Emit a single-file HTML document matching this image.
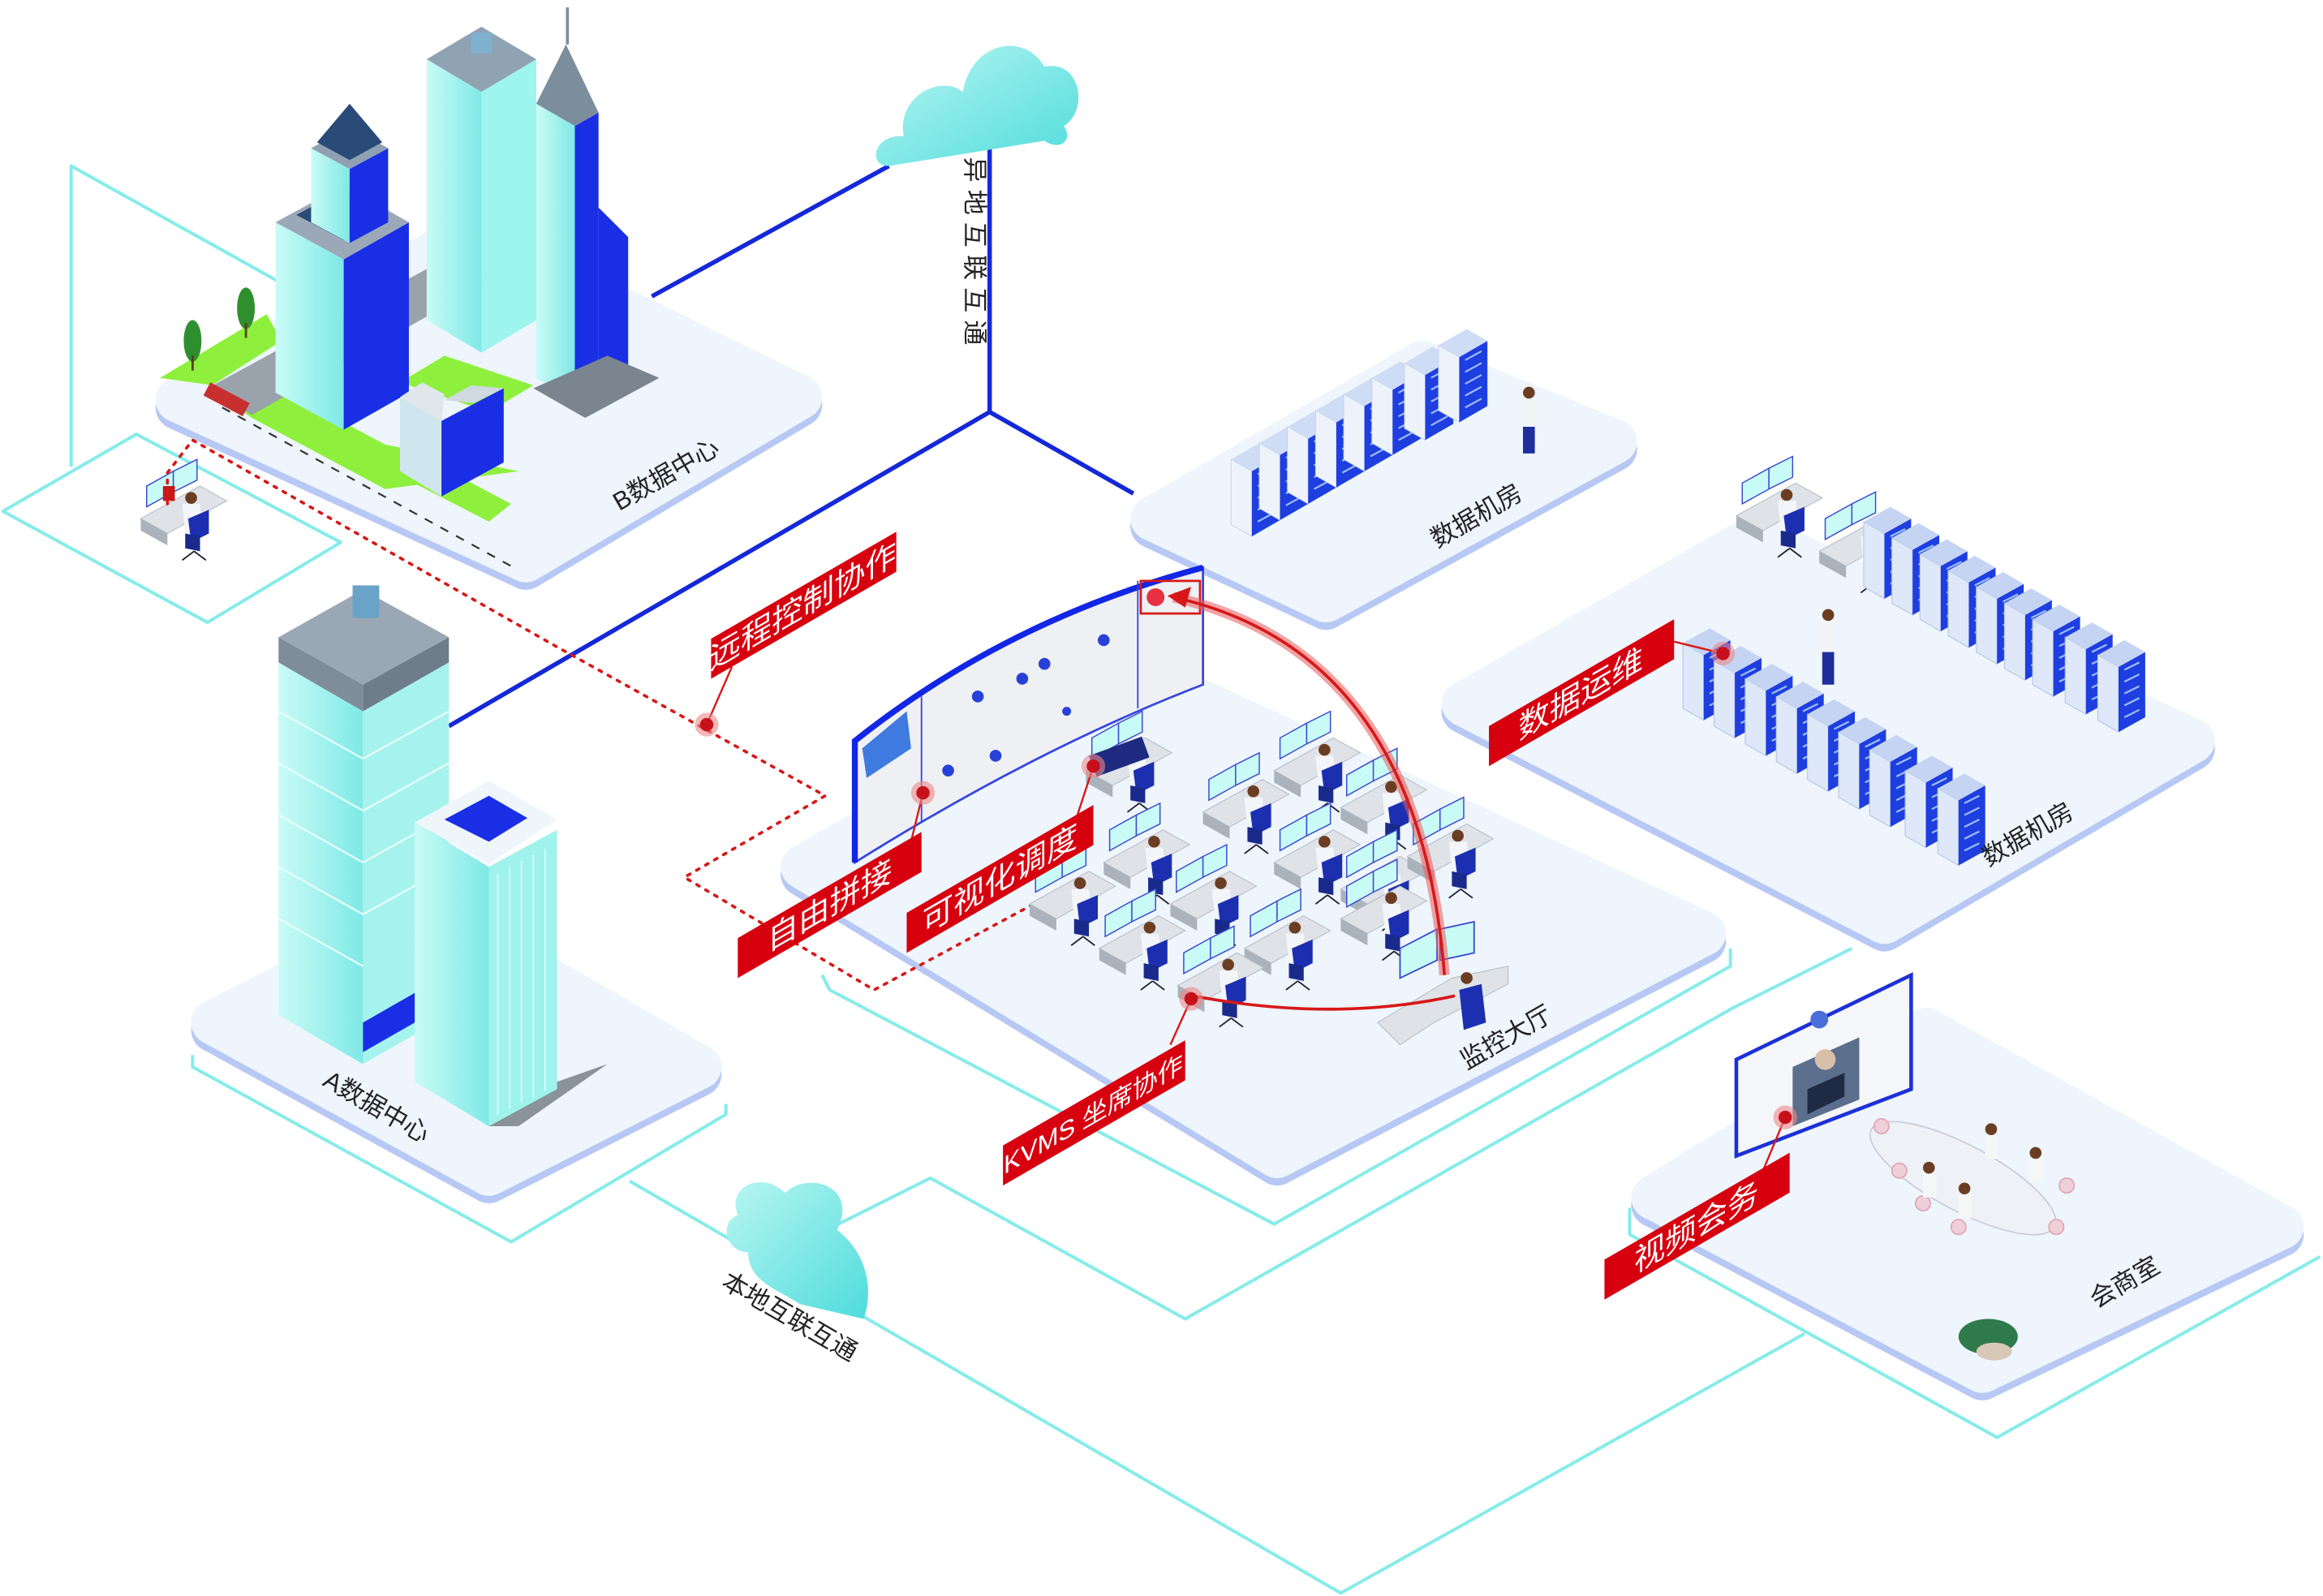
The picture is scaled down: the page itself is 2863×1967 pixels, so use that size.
<!DOCTYPE html>
<html><head><meta charset="utf-8">
<style>
html,body{margin:0;padding:0;background:#fff;}
svg{display:block;}
text{font-family:"Liberation Sans","Noto Sans CJK SC",sans-serif;}
</style></head>
<body>
<svg width="2863" height="1967" viewBox="0 0 1568 1077" preserveAspectRatio="none" xmlns="http://www.w3.org/2000/svg">
<defs>
<linearGradient id="cl" x1="0" y1="0" x2="1" y2="1"><stop offset="0" stop-color="#b9f6f2"/><stop offset="1" stop-color="#4fdcdc"/></linearGradient>
<linearGradient id="gl" x1="0" y1="0" x2="1" y2="0"><stop offset="0" stop-color="#c9fbf6"/><stop offset="1" stop-color="#7fe9e6"/></linearGradient>
<g id="ws">
 <polygon points="0,0 40,-22 58,-12 18,10" fill="#dfe3e8" stroke="#b8bec6" stroke-width="0.6"/>
 <polygon points="0,0 18,10 18,18 0,8" fill="#aab2bb"/>
 <polygon points="4,-8 4,-22 22,-32 22,-18" fill="#c8fbf6" stroke="#3a48d0" stroke-width="0.8"/>
 <polygon points="22,-18 22,-32 38,-40 38,-26" fill="#c8fbf6" stroke="#3a48d0" stroke-width="0.8"/>
 <circle cx="34" cy="-14" r="4" fill="#6b3d22"/>
 <polygon points="28,-10 40,-10 42,8 30,10" fill="#f3f5f8"/>
 <polygon points="32,0 46,-6 46,10 34,16" fill="#1c2fb0"/>
 <polygon points="30,10 40,12 40,22 30,20" fill="#1a2a8c"/>
 <line x1="36" y1="22" x2="28" y2="28" stroke="#223" stroke-width="1"/><line x1="36" y1="22" x2="44" y2="28" stroke="#223" stroke-width="1"/>
</g>
<g id="rackB">
 <polygon points="0,0 -14,-8 -14,-52 0,-44" fill="#eef3fb" stroke="#c6d0e6" stroke-width="0.5"/>
 <polygon points="0,0 19,-11 19,-55 0,-44" fill="#1e3ee0"/>
 <polygon points="0,-44 -14,-52 5,-63 19,-55" fill="#cfdcf5"/>
 <g stroke="#9fc0ff" stroke-width="1.2"><line x1="4" y1="-10" x2="15" y2="-16"/><line x1="4" y1="-18" x2="15" y2="-24"/><line x1="4" y1="-26" x2="15" y2="-32"/><line x1="4" y1="-34" x2="15" y2="-40"/><line x1="4" y1="-42" x2="15" y2="-48"/></g>
</g>
<g id="rackR">
 <polygon points="0,0 -14,-8 -14,-52 0,-44" fill="#dfe8f8" stroke="#b6c4e6" stroke-width="0.6"/>
 <polygon points="0,0 18,-10 18,-54 0,-44" fill="#1e3ee0"/>
 <polygon points="0,-44 -14,-52 4,-62 18,-54" fill="#c4d4f2"/>
 <g stroke="#9fc0ff" stroke-width="1.2"><line x1="4" y1="-10" x2="14" y2="-15"/><line x1="4" y1="-18" x2="14" y2="-23"/><line x1="4" y1="-26" x2="14" y2="-31"/><line x1="4" y1="-34" x2="14" y2="-39"/><line x1="4" y1="-42" x2="14" y2="-47"/></g>
</g>
</defs>

<g fill="none" stroke="#86ecea" stroke-width="2.2" stroke-linejoin="round">
 <polyline points="48,315 48,112 215,205"/>
 <polygon points="2,345 92,293 230,366 140,420"/>
 <polyline points="130,712 130,720 345,838 490,752 490,745"/>
 <polyline points="425,797 905,1075 1218,900"/>
 <polyline points="562,828 628,795 800,890 1170,680 1250,640"/>
 <polyline points="555,658 560,668 860,826 1168,652 1168,640"/>
 <polyline points="1100,815 1100,833 1348,970 1566,848"/>
</g>

<g fill="none" stroke="#1428d8" stroke-width="3">
 <line x1="600" y1="112" x2="440" y2="200"/>
 <line x1="668" y1="88" x2="668" y2="278"/>
 <line x1="668" y1="278" x2="765" y2="333"/>
 <line x1="668" y1="278" x2="303" y2="490"/>
</g>

<g stroke-linejoin="round" stroke-width="30">
 <polygon points="120,270 315,158 540,268 355,378" fill="#b7c8f4" stroke="#b7c8f4" transform="translate(0,5)"/>
 <polygon points="120,270 315,158 540,268 355,378" fill="#eef5fc" stroke="#eef5fc"/>
 <polygon points="778,350 960,245 1090,298 895,405" fill="#b7c8f4" stroke="#b7c8f4" transform="translate(0,5)"/>
 <polygon points="778,350 960,245 1090,298 895,405" fill="#eef5fc" stroke="#eef5fc"/>
 <polygon points="988,475 1185,362 1480,500 1272,622" fill="#b7c8f4" stroke="#b7c8f4" transform="translate(0,5)"/>
 <polygon points="988,475 1185,362 1480,500 1272,622" fill="#eef5fc" stroke="#eef5fc"/>
 <polygon points="542,585 770,455 1150,630 862,780" fill="#b7c8f4" stroke="#b7c8f4" transform="translate(0,5)"/>
 <polygon points="542,585 770,455 1150,630 862,780" fill="#eef5fc" stroke="#eef5fc"/>
 <polygon points="144,690 290,615 472,720 330,792" fill="#b7c8f4" stroke="#b7c8f4" transform="translate(0,5)"/>
 <polygon points="144,690 290,615 472,720 330,792" fill="#eef5fc" stroke="#eef5fc"/>
 <polygon points="1116,808 1300,695 1540,828 1338,925" fill="#b7c8f4" stroke="#b7c8f4" transform="translate(0,5)"/>
 <polygon points="1116,808 1300,695 1540,828 1338,925" fill="#eef5fc" stroke="#eef5fc"/>
</g>

<path d="M600,112 C585,112 590,90 610,92 C605,65 635,50 650,62 C655,30 690,20 705,45 C730,40 735,75 718,85 C725,95 715,102 705,95 Z" fill="url(#cl)"/>
<path d="M540,880 L583,890 C590,870 585,845 565,830 C580,800 545,790 530,805 C515,790 490,800 498,820 C485,825 490,845 505,845 C505,865 525,870 540,880Z" fill="url(#cl)"/>

<polygon points="108,255 180,212 190,230 140,262 170,282 260,330 350,318 260,300 200,268" fill="#8ef03c"/>
<polygon points="270,258 300,240 360,260 330,278" fill="#8ef03c"/>
<polygon points="258,315 330,352 345,340 275,303" fill="#8ef03c"/>
<polygon points="140,262 300,175 330,190 170,280" fill="#9aa2ab"/>
<line x1="150" y1="275" x2="345" y2="382" stroke="#333" stroke-dasharray="6,6" stroke-width="1.2"/>
<polygon points="232,290 186,265 186,150 232,175" fill="url(#gl)"/>
<polygon points="232,290 276,265 276,150 232,175" fill="#1a2ee6"/>
<polygon points="186,150 232,125 276,150 232,175" fill="#9aa8b8"/>
<polygon points="200,145 232,128 262,145 232,162" fill="#2a4a78"/>
<polygon points="210,150 210,100 236,114 236,164" fill="url(#gl)"/>
<polygon points="236,164 236,114 262,100 262,150" fill="#1a2ee6"/>
<polygon points="210,100 236,86 262,100 236,114" fill="#8fa0b2"/>
<polygon points="214,96 236,70 258,96 236,108" fill="#2a4a78"/>
<polygon points="325,238 288,216 288,40 325,62" fill="url(#gl)"/>
<polygon points="325,238 362,216 362,40 325,62" fill="#9ef4ee"/>
<polygon points="288,40 325,18 362,40 325,62" fill="#8fa3b3"/>
<rect x="318" y="22" width="14" height="14" fill="#7fb0d0"/>
<polygon points="388,270 362,255 362,70 388,85" fill="url(#gl)"/>
<polygon points="388,270 404,261 404,76 388,85" fill="#1a2ee6"/>
<polygon points="362,70 382,30 404,76 388,85" fill="#7c8e9c"/>
<line x1="383" y1="30" x2="383" y2="5" stroke="#7c8e9c" stroke-width="2"/>
<polygon points="404,261 424,250 424,160 404,140" fill="#1a2ee6"/>
<polygon points="360,262 395,282 445,255 410,240" fill="#7b8590"/>
<polygon points="298,335 270,318 270,268 298,284" fill="#cfe6ee"/>
<polygon points="298,335 340,312 340,262 298,284" fill="#1a2ee6"/>
<polygon points="270,268 285,258 300,266 298,284" fill="#dfe7ec"/>
<polygon points="300,270 318,260 340,262 320,272" fill="#cfd9e0"/>
<rect x="142" y="258" width="30" height="10" fill="#c83030" transform="rotate(28 142 258)"/>
<g fill="#2f8f2f"><ellipse cx="130" cy="230" rx="6" ry="14"/><ellipse cx="166" cy="208" rx="6" ry="14"/></g>
<g stroke="#5a3a1a" stroke-width="1.5"><line x1="130" y1="240" x2="130" y2="250"/><line x1="166" y1="218" x2="166" y2="228"/></g>
<text x="0" y="0" font-size="17" fill="#222" transform="translate(418,345) rotate(-30)">B数据中心</text>

<use href="#ws" x="95" y="350"/>
<rect x="110" y="328" width="8" height="10" fill="#c81818"/>

<polyline points="113,340 113,319 130,297 375,436 557,537 462,592 590,668 735,590" fill="none" stroke="#d81818" stroke-width="2" stroke-dasharray="2,5" stroke-linecap="round"/>

<polygon points="245,718 188,685 188,447 245,480" fill="url(#gl)"/>
<polygon points="245,718 303,685 303,447 245,480" fill="#a6f3ee"/>
<polygon points="188,430 245,398 303,430 245,462" fill="#9aa8b6"/>
<polygon points="188,430 245,462 245,480 188,447" fill="#7f8d9a"/>
<polygon points="245,462 303,430 303,447 245,480" fill="#6f7d8a"/>
<rect x="238" y="395" width="18" height="22" fill="#6aa3c8"/>
<g stroke="#e8fffd" stroke-width="1.2"><line x1="188" y1="480" x2="245" y2="512"/><line x1="188" y1="515" x2="245" y2="547"/><line x1="188" y1="550" x2="245" y2="582"/><line x1="188" y1="585" x2="245" y2="617"/><line x1="188" y1="620" x2="245" y2="652"/><line x1="245" y1="512" x2="303" y2="480"/><line x1="245" y1="547" x2="303" y2="515"/><line x1="245" y1="582" x2="303" y2="550"/><line x1="245" y1="617" x2="303" y2="585"/></g>
<polygon points="245,690 280,670 280,690 245,710" fill="#1a2ee6"/>
<polygon points="376,730 410,718 350,760 330,760" fill="#8a929a"/>
<polygon points="330,760 280,730 280,555 330,585" fill="url(#gl)"/>
<polygon points="330,760 376,735 376,560 330,585" fill="#9ff3ec"/>
<polygon points="280,555 330,527 376,553 330,583" fill="#eef6fb"/>
<polygon points="300,553 330,537 356,552 330,568" fill="#1a2ee6"/>
<g stroke="#d8fffc" stroke-width="1"><line x1="336" y1="590" x2="336" y2="752"/><line x1="344" y1="585" x2="344" y2="748"/><line x1="352" y1="581" x2="352" y2="744"/><line x1="360" y1="577" x2="360" y2="740"/><line x1="368" y1="573" x2="368" y2="736"/></g>
<text x="0" y="0" font-size="17" fill="#222" transform="translate(217,732) rotate(30)">A数据中心</text>

<use href="#rackB" x="845" y="362"/><use href="#rackB" x="864" y="351"/><use href="#rackB" x="883" y="340"/><use href="#rackB" x="902" y="329"/><use href="#rackB" x="921" y="318"/><use href="#rackB" x="940" y="307"/><use href="#rackB" x="962" y="297"/><use href="#rackB" x="985" y="285"/>
<g><circle cx="1032" cy="265" r="4" fill="#6b3d22"/><rect x="1027" y="270" width="10" height="18" fill="#f2f5f8"/><rect x="1028" y="288" width="8" height="18" fill="#1e2f9c"/></g>
<text x="0" y="0" font-size="17" fill="#222" transform="translate(970,370) rotate(-30)">数据机房</text>

<use href="#ws" x="1172" y="348"/><use href="#ws" x="1228" y="372"/>
<use href="#rackR" x="1272" y="404"/><use href="#rackR" x="1291" y="415"/><use href="#rackR" x="1310" y="426"/><use href="#rackR" x="1329" y="437"/><use href="#rackR" x="1348" y="448"/><use href="#rackR" x="1367" y="459"/><use href="#rackR" x="1386" y="470"/><use href="#rackR" x="1408" y="482"/><use href="#rackR" x="1430" y="494"/>
<use href="#rackR" x="1150" y="486"/><use href="#rackR" x="1171" y="498"/><use href="#rackR" x="1192" y="510"/><use href="#rackR" x="1213" y="522"/><use href="#rackR" x="1234" y="534"/><use href="#rackR" x="1255" y="546"/><use href="#rackR" x="1276" y="558"/><use href="#rackR" x="1300" y="572"/><use href="#rackR" x="1322" y="584"/>
<g><circle cx="1234" cy="415" r="4" fill="#6b3d22"/><rect x="1229" y="420" width="10" height="20" fill="#f2f5f8"/><rect x="1230" y="440" width="8" height="22" fill="#1e2f9c"/></g>
<text x="0" y="0" font-size="17" fill="#222" transform="translate(1342,585) rotate(-30)">数据机房</text>

<path d="M577,500 Q680,418 812,383 L812,462 Q700,505 577,582 Z" fill="#eef0f3" stroke="#3546e0" stroke-width="1.5"/>
<path d="M577,582 L577,500 Q680,418 812,383" fill="none" stroke="#1226e6" stroke-width="4"/>
<line x1="622" y1="470" x2="622" y2="555" stroke="#3546e0" stroke-width="1"/>
<line x1="768" y1="392" x2="768" y2="478" stroke="#3546e0" stroke-width="1"/>
<path d="M582,505 L612,480 L615,505 L585,525Z" fill="#3e7ae0"/>
<g fill="#2740d8"><circle cx="660" cy="470" r="4"/><circle cx="690" cy="458" r="4"/><circle cx="705" cy="448" r="4"/><circle cx="745" cy="432" r="4"/><circle cx="672" cy="510" r="4"/><circle cx="640" cy="520" r="4"/><circle cx="720" cy="480" r="3"/></g>
<rect x="770" y="392" width="40" height="22" fill="none" stroke="#d81818" stroke-width="1.5"/>
<circle cx="780" cy="403" r="6" fill="#e83040"/>
<use href="#ws" x="733" y="520"/>
<rect x="735" y="510" width="38" height="15" fill="#1e2a80" transform="rotate(-20 735 510)"/>
<use href="#ws" x="812" y="548"/><use href="#ws" x="860" y="520"/><use href="#ws" x="905" y="545"/>
<use href="#ws" x="860" y="582"/><use href="#ws" x="905" y="600"/><use href="#ws" x="950" y="578"/>
<use href="#ws" x="745" y="582"/><use href="#ws" x="790" y="610"/><use href="#ws" x="840" y="640"/>
<use href="#ws" x="695" y="610"/><use href="#ws" x="742" y="640"/><use href="#ws" x="795" y="665"/>
<use href="#ws" x="905" y="620"/>
<polygon points="930,690 980,660 1018,652 1018,664 968,690 945,705" fill="#dfe3e8" stroke="#b8bec6" stroke-width="0.6"/>
<polygon points="945,660 945,640 970,627 970,648" fill="#c8fbf6" stroke="#3a48d0"/><polygon points="972,648 972,627 995,622 995,643" fill="#c8fbf6" stroke="#3a48d0"/>
<circle cx="990" cy="660" r="4" fill="#6b3d22"/><polygon points="985,668 1000,664 1003,690 988,695" fill="#1c2fb0"/>
<text x="0" y="0" font-size="17" fill="#222" transform="translate(990,722) rotate(-30)">监控大厅</text>

<path d="M975,658 Q958,440 792,403" fill="none" stroke="#e85a5a" stroke-width="7" opacity="0.55"/>
<path d="M975,658 Q958,440 792,403" fill="none" stroke="#d81818" stroke-width="2"/>
<polygon points="788,402 804,396 800,410" fill="#d81818"/>
<path d="M805,672 Q900,690 982,672" fill="none" stroke="#d81818" stroke-width="2"/>

<polygon points="1172,715 1290,658 1290,735 1172,780" fill="#f4f6fa" stroke="#1c30d8" stroke-width="2.5"/>
<polygon points="1210,720 1255,700 1255,742 1210,760" fill="#5b6f8c"/>
<circle cx="1232" cy="715" r="7" fill="#d8c0a8"/><polygon points="1220,735 1245,724 1245,740 1220,752" fill="#1f2b44"/>
<circle cx="1228" cy="688" r="6" fill="#4a6ed8"/>
<ellipse cx="1325" cy="795" rx="70" ry="22" transform="rotate(28 1325 795)" fill="#eef2f6" stroke="#ccd" stroke-width="1"/>
<g fill="#f0d0d8" stroke="#e0a8b8"><circle cx="1270" cy="760" r="5"/><circle cx="1282" cy="790" r="5"/><circle cx="1298" cy="812" r="5"/><circle cx="1322" cy="828" r="5"/><circle cx="1388" cy="828" r="5"/><circle cx="1395" cy="800" r="5"/></g>
<g fill="#f4f6f8"><rect x="1340" y="766" width="9" height="16"/><rect x="1370" y="782" width="9" height="16"/><rect x="1298" y="792" width="9" height="16"/><rect x="1322" y="806" width="9" height="16"/></g>
<g fill="#6b3d22"><circle cx="1344" cy="762" r="4"/><circle cx="1374" cy="778" r="4"/><circle cx="1302" cy="788" r="4"/><circle cx="1326" cy="802" r="4"/></g>
<ellipse cx="1342" cy="902" rx="20" ry="12" fill="#2e7a4a"/><ellipse cx="1346" cy="912" rx="12" ry="6" fill="#d8c8b8"/>
<text x="0" y="0" font-size="17" fill="#222" transform="translate(1415,883) rotate(-30)">会商室</text>

<text x="0" y="0" font-size="17" fill="#222" letter-spacing="5" transform="translate(652,106) rotate(90)">异地互联互通</text>
<text x="0" y="0" font-size="17" fill="#222" transform="translate(486,868) rotate(30)">本地互联互通</text>

<g stroke="#d81818" stroke-width="1.3">
 <line x1="477" y1="489" x2="494" y2="450"/>
 <line x1="623" y1="535" x2="612" y2="580"/>
 <line x1="738" y1="517" x2="724" y2="560"/>
 <line x1="804" y1="674" x2="790" y2="705"/>
 <line x1="1163" y1="441" x2="1130" y2="433"/>
 <line x1="1205" y1="754" x2="1190" y2="790"/>
</g>
<g>
 <circle cx="477" cy="489" r="8" fill="#e88" opacity="0.6"/><circle cx="477" cy="489" r="4.5" fill="#c8101a"/>
 <circle cx="623" cy="535" r="8" fill="#e88" opacity="0.6"/><circle cx="623" cy="535" r="4.5" fill="#c8101a"/>
 <circle cx="738" cy="517" r="8" fill="#e88" opacity="0.6"/><circle cx="738" cy="517" r="4.5" fill="#c8101a"/>
 <circle cx="804" cy="674" r="8" fill="#e88" opacity="0.6"/><circle cx="804" cy="674" r="4.5" fill="#c8101a"/>
 <circle cx="1163" cy="441" r="8" fill="#e88" opacity="0.6"/><circle cx="1163" cy="441" r="4.5" fill="#c8101a"/>
 <circle cx="1205" cy="754" r="8" fill="#e88" opacity="0.6"/><circle cx="1205" cy="754" r="4.5" fill="#c8101a"/>
</g>

<g font-size="21" fill="#fff" text-anchor="middle">
 <g transform="translate(480,431) skewY(-30)"><rect width="125" height="27" fill="#d7000f"/><text x="62" y="21">远程控制协作</text></g>
 <g transform="translate(1005,490) skewY(-30)"><rect width="125" height="27" fill="#d7000f"/><text x="62" y="21">数据运维</text></g>
 <g transform="translate(498,633) skewY(-30)"><rect width="124" height="27" fill="#d7000f"/><text x="62" y="21">自由拼接</text></g>
 <g transform="translate(612,616) skewY(-30)"><rect width="126" height="27" fill="#d7000f"/><text x="63" y="21">可视化调度</text></g>
 <g transform="translate(677,773) skewY(-30)"><rect width="123" height="27" fill="#d7000f"/><text x="61" y="20" font-size="17">KVMS 坐席协作</text></g>
 <g transform="translate(1083,850) skewY(-30)"><rect width="125" height="27" fill="#d7000f"/><text x="62" y="21">视频会务</text></g>
</g>
</svg>
</body></html>
